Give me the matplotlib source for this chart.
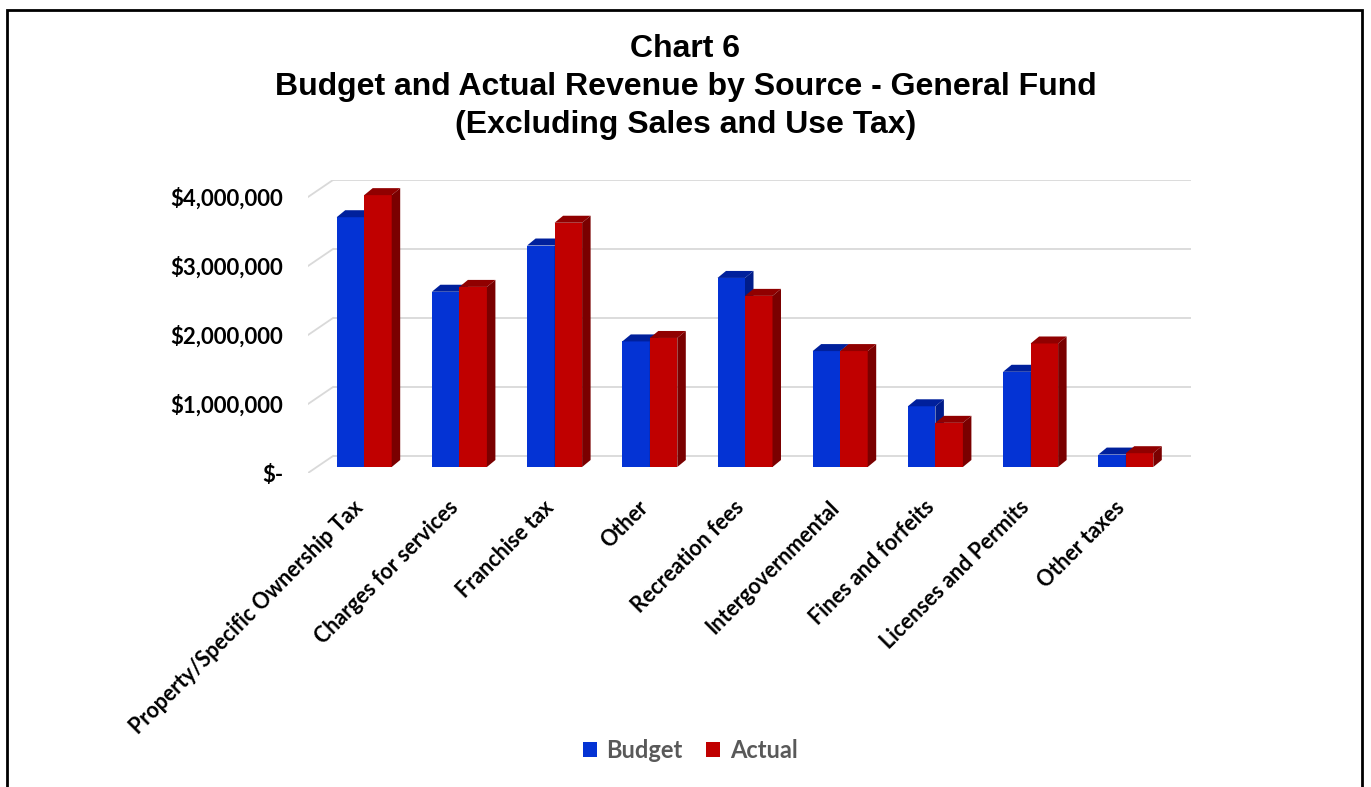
import matplotlib

matplotlib.use("Agg")
import matplotlib.pyplot as plt
import matplotlib.transforms as mtransforms
from matplotlib.patches import Patch, Polygon, Rectangle

# values (dollars)
categories = [
    "Property/Specific Ownership Tax", "Charges for services", "Franchise tax",
    "Other", "Recreation fees", "Intergovernmental", "Fines and forfeits",
    "Licenses and Permits", "Other taxes",
]
budget = [3620000, 2540000, 3210000, 1820000, 2740000, 1680000, 880000, 1380000, 180000]
actual = [3940000, 2610000, 3540000, 1870000, 2480000, 1680000, 640000, 1790000, 200000]
y_ticks = [0, 1000000, 2000000, 3000000, 4000000]
y_labels = ["$-", "$1,000,000", "$2,000,000", "$3,000,000", "$4,000,000"]
series = ["Budget", "Actual"]

# face colours: front, top, side
BLUE = ("#0433D4", "#00209C", "#001C8A")
RED = ("#C00000", "#900000", "#7A0000")

W, H, DPI = 1371, 787, 100
fig = plt.figure(figsize=(W / DPI, H / DPI), dpi=DPI)
fig.patch.set_facecolor("white")

# axes box in pixels (front plane of the floor)
left_px, right_px, top_px, bot_px = 308, 1191, 180, 473
ax = fig.add_axes([left_px / W, 1 - bot_px / H,
                   (right_px - left_px) / W, (bot_px - top_px) / H])

x_step_px = 95.2          # distance between groups
first_px = 364.2          # centre of first group
px_per_unit_y = 69 / 1e6  # pixels per dollar
zero_px = 467             # baseline of bar fronts

xlim = ((left_px - first_px) / x_step_px, (right_px - first_px) / x_step_px)
ylim = ((zero_px - bot_px) / px_per_unit_y, (zero_px - top_px) / px_per_unit_y)
ax.set_xlim(*xlim)
ax.set_ylim(*ylim)


def dx(px):
    return px / x_step_px


def dy(px):
    return px / px_per_unit_y


# back wall gridlines with the diagonal on the side wall
wall_x = xlim[0] + dx(25)
for v in y_ticks:
    yb = v + dy(11)
    yf = v - dy(6)
    ax.plot([wall_x, xlim[1]], [yb, yb], color="#D9D9D9", lw=1.3, zorder=1,
            solid_capstyle="butt")
    ax.plot([xlim[0], wall_x], [yf, yb], color="#D9D9D9", lw=1.3, zorder=1)

bw = 27.5 / x_step_px
ddx, ddy = dx(8.5), dy(7)


def bar3d(xs, hs, cols, z):
    ax.bar(xs, hs, width=bw, align="edge", color=cols[0], zorder=z, lw=0)
    for x0, h in zip(xs, hs):
        x1 = x0 + bw
        top = [(x0, h), (x0 + ddx, h + ddy), (x1 + ddx, h + ddy), (x1, h)]
        side = [(x1, 0), (x1 + ddx, ddy), (x1 + ddx, h + ddy), (x1, h)]
        ax.add_patch(Polygon(top, closed=True, fc=cols[1], lw=0, zorder=z))
        ax.add_patch(Polygon(side, closed=True, fc=cols[2], lw=0, zorder=z))


idx = list(range(len(categories)))
bar3d([i - bw for i in idx], budget, BLUE, 2)
bar3d([i for i in idx], actual, RED, 3)

for s in ax.spines.values():
    s.set_visible(False)
ax.set_yticks([v - dy(6) for v in y_ticks])
ax.set_yticklabels(y_labels, fontsize=16, fontweight="bold", family="Lato")
ax.set_xticks(idx)
ax.set_xticklabels(categories, rotation=45, ha="right", rotation_mode="anchor",
                   fontsize=15.5, fontweight="bold", family="Lato")
ax.tick_params(axis="y", length=0, pad=18)
ax.tick_params(axis="x", length=0, pad=17)
shift = mtransforms.ScaledTranslation(-12 / DPI, 0, fig.dpi_scale_trans)
for lab in ax.get_xticklabels():
    lab.set_transform(lab.get_transform() + shift)

fig.text(0.5, 1 - 87 / H,
         "Chart 6\nBudget and Actual Revenue by Source - General Fund\n(Excluding Sales and Use Tax)",
         ha="center", va="center", fontsize=23, fontweight="bold",
         family="Liberation Sans", linespacing=1.34)

handles = [Patch(fc=BLUE[0]), Patch(fc=RED[0])]
leg = fig.legend(handles, series, loc="center", bbox_to_anchor=(690 / W, 1 - 750 / H),
                 ncol=2, frameon=False, handlelength=0.6, handleheight=0.6,
                 handletextpad=0.4, columnspacing=1.0,
                 prop={"family": "Lato", "weight": "bold", "size": 17})
for t in leg.get_texts():
    t.set_color("#595959")

# outer frame
fig.patches.append(Rectangle((7 / W, -0.05), (1362 - 7) / W, 1.05 - 10 / H,
                             transform=fig.transFigure, fill=False, ec="black", lw=2))

fig.savefig("out.png", dpi=DPI)
